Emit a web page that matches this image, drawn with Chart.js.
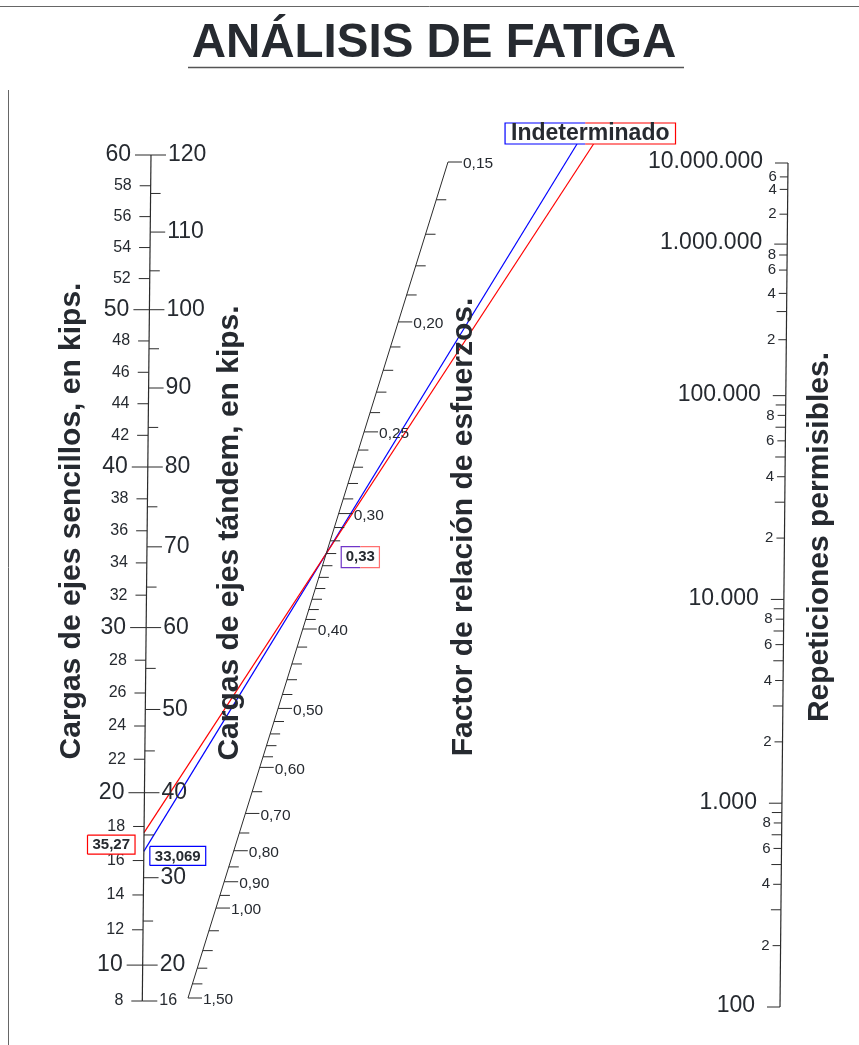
<!DOCTYPE html>
<html lang="es">
<head>
<meta charset="utf-8">
<title>Análisis de fatiga</title>
<script src="https://cdn.jsdelivr.net/npm/chart.js@4.4.1/dist/chart.umd.min.js"></script>
<style>
  html, body { margin: 0; padding: 0; background: #fff; }
  canvas { display: block; }
</style>
</head>
<body>
<canvas id="nomograma" width="859" height="1045"></canvas>
<script>
// --- escalas del nomograma ---
const cargasSencillasMayores = [10, 20, 30, 40, 50, 60];
const cargasSencillasMenores = [8, 12, 14, 16, 18, 22, 24, 26, 28, 32, 34, 36, 38, 42, 44, 46, 48, 52, 54, 56, 58];
const cargasTandemMayores = [20, 30, 40, 50, 60, 70, 80, 90, 100, 110, 120];
const cargasTandemMenores = [25, 35, 45, 55, 65, 75, 85, 95, 105, 115];
const cargaTandemMinima = 16;

const factoresMayores = [0.15, 0.20, 0.25, 0.30, 0.40, 0.50, 0.60, 0.70, 0.80, 0.90, 1.00, 1.50];
const factoresMenores = [0.16, 0.17, 0.18, 0.19, 0.21, 0.22, 0.23, 0.24, 0.26, 0.27, 0.28, 0.29,
  0.31, 0.32, 0.33, 0.34, 0.35, 0.36, 0.37, 0.38, 0.39, 0.42, 0.44, 0.46, 0.48,
  0.52, 0.54, 0.56, 0.58, 0.65, 0.75, 0.85, 0.95, 1.1, 1.2, 1.3, 1.4];

const repeticionesDecadas = [100, 1000, 10000, 100000, 1000000, 10000000];
const repeticionesMenores = [200, 300, 400, 500, 600, 700, 800, 900,
  2000, 3000, 4000, 5000, 6000, 7000, 8000, 9000,
  20000, 30000, 40000, 50000, 60000, 70000, 80000, 90000,
  200000, 300000, 400000, 600000, 800000,
  2000000, 4000000, 6000000];

// --- caso analizado ---
const cargasTandemCaso = [35.27, 33.069];
const coloresCaso = ['#ff0000', '#0000ff'];
const factorCaso = 0.33;
const resultadoCaso = 'Indeterminado';

// --- geometria de los ejes (coordenadas de papel) ---
const ejeCargas = { x0: 142.3, y0: 1001, x1: 151, y1: 155 };   // 8 kips -> 60 kips
const ejeFactor = { x0: 448, y0: 162, x1: 188, y1: 998 };      // 0,15 -> 1,50
const ejeRep = { x0: 780, y0: 1007, x1: 788, y1: 163 };        // 100 -> 10.000.000
const ySuperior = 144;

function sobreEje(eje, f) {
  return { x: eje.x0 + f * (eje.x1 - eje.x0), y: eje.y0 + f * (eje.y1 - eje.y0) };
}
function puntoCarga(sencilla) {
  const p = 0.918;
  const f = (Math.pow(sencilla, p) - Math.pow(8, p)) / (Math.pow(60, p) - Math.pow(8, p));
  return sobreEje(ejeCargas, f);
}
function puntoFactor(sr) {
  const q = -0.47;
  const f = (Math.pow(0.15, q) - Math.pow(sr, q)) / (Math.pow(0.15, q) - Math.pow(1.5, q));
  return sobreEje(ejeFactor, f);
}
function distanciaRep(n) {
  const u = Math.log10(n);
  return u <= 5 ? (u - 2) * 204 : 612 + 326.4 * (1 - Math.exp(-0.625 * (u - 5)));
}
function puntoRep(n) {
  return sobreEje(ejeRep, distanciaRep(n) / distanciaRep(1e7));
}

// segmentos horizontales separados por huecos
function marcas(lista, punto, desde, hasta) {
  const out = [];
  lista.forEach(v => {
    const p = punto(v);
    out.push({ x: p.x + desde, y: p.y }, { x: p.x + hasta, y: p.y }, { x: null, y: null });
  });
  return out;
}
function linea(datos, color, ancho) {
  return { data: datos, showLine: true, borderColor: color, borderWidth: ancho,
    pointRadius: 0, pointHoverRadius: 0, spanGaps: false, tension: 0, fill: false };
}

const tandemComoSencilla = t => puntoCarga(t / 2);
const etiquetadas = repeticionesMenores.filter(n => Number(String(n)[0]) % 2 === 0);
const sinEtiqueta = repeticionesMenores.filter(n => Number(String(n)[0]) % 2 === 1);

const casos = cargasTandemCaso.map(t => {
  const a = tandemComoSencilla(t);
  const b = puntoFactor(factorCaso);
  const k = (ySuperior - a.y) / (b.y - a.y);
  return { inicio: a, pivote: b, fin: { x: a.x + k * (b.x - a.x), y: ySuperior } };
});

const colorEje = '#2b2b2b';
const datasets = [
  linea([puntoCarga(8), puntoCarga(60)], colorEje, 1.2),
  linea(marcas(cargasSencillasMayores, puntoCarga, -16, 0), colorEje, 1),
  linea(marcas(cargasSencillasMenores, puntoCarga, -11, 0), colorEje, 1),
  linea(marcas(cargasTandemMayores.concat([cargaTandemMinima]), tandemComoSencilla, 0, 15), colorEje, 1),
  linea(marcas(cargasTandemMenores, tandemComoSencilla, 0, 10), colorEje, 1),
  linea([puntoFactor(0.15), puntoFactor(1.5)], colorEje, 1),
  linea(marcas(factoresMayores, puntoFactor, 0, 14), colorEje, 1),
  linea(marcas(factoresMenores, puntoFactor, 0, 10), colorEje, 1),
  linea([puntoRep(100), puntoRep(1e7)], colorEje, 1.2),
  linea(marcas(repeticionesDecadas, puntoRep, -13, 0), colorEje, 1),
  linea(marcas(etiquetadas, puntoRep, -8, 0), colorEje, 1),
  linea(marcas(sinEtiqueta, puntoRep, -10, 0), colorEje, 1)
];
casos.forEach((c, i) => datasets.push(linea([c.inicio, c.fin], coloresCaso[i], 1.2)));

const colorTexto = '#262a30';
const fuente = 'Liberation Sans, Arial, sans-serif';
const conComa = v => v.toFixed(2).replace('.', ',');
const conPuntos = n => String(n).replace(/\B(?=(\d{3})+(?!\d))/g, '.');

function texto(ctx, s, x, y, tam, alin, negrita) {
  ctx.font = (negrita ? 'bold ' : '') + tam + 'px ' + fuente;
  ctx.textAlign = alin;
  ctx.textBaseline = 'middle';
  ctx.fillStyle = colorTexto;
  ctx.fillText(s, x, y);
}
function vertical(ctx, s, x, y) {
  ctx.save();
  ctx.translate(x, y);
  ctx.rotate(-Math.PI / 2);
  ctx.font = 'bold 30px ' + fuente;
  ctx.textAlign = 'center';
  ctx.textBaseline = 'alphabetic';
  ctx.fillStyle = colorTexto;
  ctx.fillText(s, 0, 0);
  ctx.restore();
}
// recuadro de dos colores: izquierda hasta xCorte, derecha desde xCorte
function recuadro(ctx, x, y, w, h, colorIzq, colorDer, xCorte) {
  ctx.fillStyle = '#fff';
  ctx.fillRect(x, y, w, h);
  ctx.lineWidth = 1.2;
  ctx.strokeStyle = colorIzq;
  ctx.beginPath();
  ctx.moveTo(xCorte, y); ctx.lineTo(x, y); ctx.lineTo(x, y + h); ctx.lineTo(xCorte, y + h);
  ctx.stroke();
  ctx.strokeStyle = colorDer;
  ctx.beginPath();
  ctx.moveTo(xCorte, y); ctx.lineTo(x + w, y); ctx.lineTo(x + w, y + h); ctx.lineTo(xCorte, y + h);
  ctx.stroke();
}

const rotulos = {
  id: 'rotulos',
  afterDatasetsDraw(chart) {
    const ctx = chart.ctx;
    const sx = chart.scales.x, sy = chart.scales.y;
    const P = p => ({ x: sx.getPixelForValue(p.x), y: sy.getPixelForValue(p.y) });

    // marco y titulo
    ctx.save();
    ctx.strokeStyle = '#666';
    ctx.lineWidth = 1;
    ctx.beginPath();
    ctx.moveTo(0, sy.getPixelForValue(6.5)); ctx.lineTo(859, sy.getPixelForValue(6.5));
    ctx.moveTo(sx.getPixelForValue(8.5), sy.getPixelForValue(90)); ctx.lineTo(sx.getPixelForValue(8.5), 1045);
    ctx.stroke();
    ctx.font = 'bold 47.5px ' + fuente;
    ctx.textAlign = 'center';
    ctx.textBaseline = 'alphabetic';
    ctx.fillStyle = colorTexto;
    ctx.fillText('ANÁLISIS DE FATIGA', sx.getPixelForValue(434), sy.getPixelForValue(57));
    ctx.strokeStyle = '#555';
    ctx.lineWidth = 1.5;
    ctx.beginPath();
    ctx.moveTo(sx.getPixelForValue(188), sy.getPixelForValue(67.5));
    ctx.lineTo(sx.getPixelForValue(684), sy.getPixelForValue(67.5));
    ctx.stroke();

    // etiquetas de cargas
    cargasSencillasMayores.forEach(v => { const p = P(puntoCarga(v)); texto(ctx, String(v), p.x - 20, p.y, 23, 'right'); });
    cargasSencillasMenores.forEach(v => { const p = P(puntoCarga(v)); texto(ctx, String(v), p.x - 19, p.y, 16, 'right'); });
    cargasTandemMayores.forEach(v => { const p = P(tandemComoSencilla(v)); texto(ctx, String(v), p.x + 17, p.y, 23, 'left'); });
    const p16 = P(tandemComoSencilla(cargaTandemMinima));
    texto(ctx, String(cargaTandemMinima), p16.x + 17, p16.y, 16, 'left');

    // etiquetas del factor de relacion de esfuerzos
    factoresMayores.forEach(v => { const p = P(puntoFactor(v)); texto(ctx, conComa(v), p.x + 15, p.y + 2, 15.5, 'left'); });

    // etiquetas de repeticiones
    repeticionesDecadas.forEach(n => { const p = P(puntoRep(n)); texto(ctx, conPuntos(n), p.x - 25, p.y - 1, 23, 'right'); });
    etiquetadas.forEach(n => { const p = P(puntoRep(n)); texto(ctx, String(n)[0], p.x - 11, p.y, 15, 'right'); });

    // titulos de los ejes
    vertical(ctx, 'Cargas de ejes sencillos, en kips.', sx.getPixelForValue(80), sy.getPixelForValue(521));
    vertical(ctx, 'Cargas de ejes tándem, en kips.', sx.getPixelForValue(238), sy.getPixelForValue(533));
    vertical(ctx, 'Factor de relación de esfuerzos.', sx.getPixelForValue(472), sy.getPixelForValue(527));
    vertical(ctx, 'Repeticiones permisibles.', sx.getPixelForValue(828), sy.getPixelForValue(537));

    // valores del caso
    casos.forEach((c, i) => {
      const a = P(c.inicio);
      const s = conComa(cargasTandemCaso[i]).replace(/0+$/, '').replace(/,$/, '');
      const etiqueta = i === 1 ? String(cargasTandemCaso[i]).replace('.', ',') : s;
      ctx.font = 'bold 15px ' + fuente;
      const w = ctx.measureText(etiqueta).width + 10;
      const x = i === 0 ? a.x - 9 - w : a.x + 6;
      const yc = i === 0 ? a.y + 12 : a.y + 4.5;
      recuadro(ctx, x, yc - 9.5, w, 19, coloresCaso[i], coloresCaso[i], x);
      texto(ctx, etiqueta, x + w / 2, yc + 0.5, 15, 'center', true);
    });

    const pv = P(casos[0].pivote);
    ctx.font = 'bold 15px ' + fuente;
    const wf = ctx.measureText(conComa(factorCaso)).width + 9;
    recuadro(ctx, pv.x + 15, pv.y - 7, wf, 21, '#7035c8', '#ff7070', pv.x + 15 + wf / 2);
    texto(ctx, conComa(factorCaso), pv.x + 15 + wf / 2, pv.y + 3.5, 15, 'center', true);

    const finR = P(casos[0].fin), finA = P(casos[1].fin);
    const corte = (finR.x + finA.x) / 2;
    ctx.font = 'bold 23px ' + fuente;
    const wr = ctx.measureText(resultadoCaso).width + 12;
    const xr = corte + 5 - wr / 2;
    recuadro(ctx, xr, finR.y - 21, wr, 21, coloresCaso[1], coloresCaso[0], corte);
    texto(ctx, resultadoCaso, xr + wr / 2, finR.y - 10, 23, 'center', true);
    ctx.restore();
  }
};

new Chart(document.getElementById('nomograma').getContext('2d'), {
  type: 'scatter',
  data: { datasets: datasets },
  options: {
    responsive: false,
    animation: false,
    layout: { padding: 0 },
    scales: {
      x: { type: 'linear', min: 0, max: 859, display: false },
      y: { type: 'linear', min: 0, max: 1045, reverse: true, display: false }
    },
    plugins: {
      legend: { display: false },
      tooltip: { enabled: false }
    },
    events: []
  },
  plugins: [rotulos]
});
</script>
</body>
</html>
